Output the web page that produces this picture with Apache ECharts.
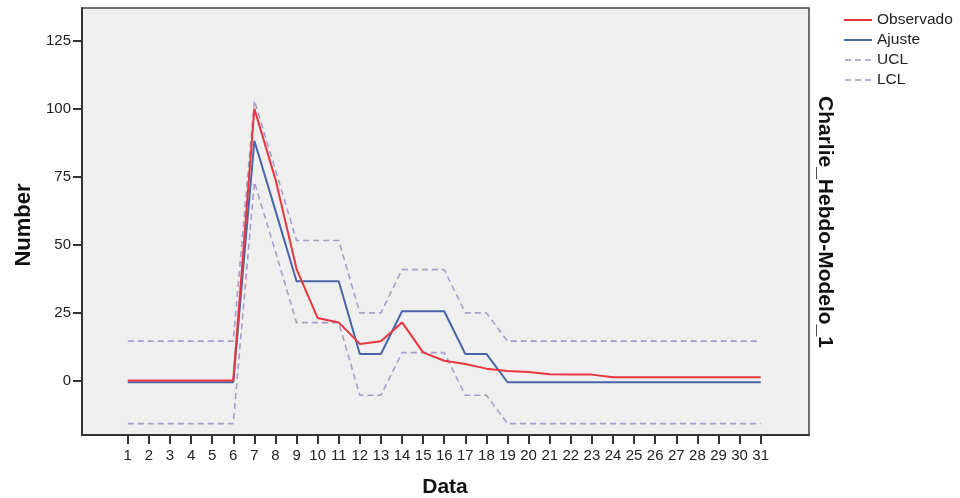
<!DOCTYPE html>
<html>
<head>
<meta charset="utf-8">
<script src="https://cdn.jsdelivr.net/npm/echarts@6/dist/echarts.min.js"></script>
<style>
html,body{margin:0;padding:0;background:#fff;}
#chart{width:960px;height:498px;}
</style>
</head>
<body>
<div id="chart"></div>
<script>
const categories = [1,2,3,4,5,6,7,8,9,10,11,12,13,14,15,16,17,18,19,20,21,22,23,24,25,26,27,28,29,30,31];
const observado = [0,0,0,0,0,0,100,74,41,23,21.4,13.5,14.5,21.4,10.4,7.3,6.1,4.4,3.5,3.2,2.3,2.2,2.2,1.2,1.2,1.2,1.2,1.2,1.2,1.2,1.2];
const ajuste = [-0.6,-0.6,-0.6,-0.6,-0.6,-0.6,88.2,62.5,36.5,36.5,36.5,9.8,9.8,25.5,25.5,25.5,9.8,9.8,-0.6,-0.6,-0.6,-0.6,-0.6,-0.6,-0.6,-0.6,-0.6,-0.6,-0.6,-0.6,-0.6];
const ucl = [14.5,14.5,14.5,14.5,14.5,14.5,103,77.5,51.5,51.5,51.5,24.9,24.9,40.8,40.8,40.8,24.9,24.9,14.5,14.5,14.5,14.5,14.5,14.5,14.5,14.5,14.5,14.5,14.5,14.5,14.5];
const lcl = [-15.8,-15.8,-15.8,-15.8,-15.8,-15.8,73,47.5,21.3,21.3,21.3,-5.4,-5.4,10.3,10.3,10.3,-5.4,-5.4,-15.8,-15.8,-15.8,-15.8,-15.8,-15.8,-15.8,-15.8,-15.8,-15.8,-15.8,-15.8,-15.8];
const yTicks = [0,25,50,75,100,125];
const seriesNames = ['Observado','Ajuste','UCL','LCL'];

const pairs = arr => categories.map((c,i)=>[c, arr[i]]);
const FONT = 'Liberation Sans, Arial, sans-serif';
const dashIcon = 'path://M0,0H6V2H0Z M10,0H16V2H10Z M20,0H26V2H20Z';

const chart = echarts.init(document.getElementById('chart'));
chart.setOption({
  animation:false,
  backgroundColor:'#fff',
  grid:{left:82,right:151,top:8,bottom:63,show:true,backgroundColor:'#EFEFEF',borderColor:'#444',borderWidth:1.5},
  legend:{
    orient:'vertical',left:839,top:7,itemWidth:28,itemHeight:2,itemGap:4,
    data:[
      {name:seriesNames[0],icon:'rect'},
      {name:seriesNames[1],icon:'rect'},
      {name:seriesNames[2],icon:dashIcon},
      {name:seriesNames[3],icon:dashIcon}
    ],
    textStyle:{fontFamily:FONT,fontSize:15.5,lineHeight:16,color:'#222'}
  },
  xAxis:{
    type:'value',min:-1.17,max:33.29,
    splitLine:{show:false},
    axisLine:{show:true,onZero:false,lineStyle:{color:'#333',width:2}},
    axisTick:{show:true,length:9,lineStyle:{color:'#333',width:2},customValues:categories},
    axisLabel:{fontFamily:FONT,fontSize:15,color:'#222',margin:13,customValues:categories}
  },
  yAxis:{
    type:'value',min:-20,max:137,
    splitLine:{show:false},
    axisLine:{show:true,onZero:false,lineStyle:{color:'#333',width:2}},
    axisTick:{show:true,length:9,lineStyle:{color:'#333',width:2},customValues:yTicks},
    axisLabel:{fontFamily:FONT,fontSize:15,color:'#222',margin:11,customValues:yTicks}
  },
  graphic:[
    {type:'text',x:445,y:487,style:{text:'Data',font:'bold 21px '+FONT,fill:'#111',align:'center',verticalAlign:'middle'}},
    {type:'text',x:24,y:225,rotation:Math.PI/2,style:{text:'Number',font:'bold 22px '+FONT,fill:'#111',align:'center',verticalAlign:'middle'}},
    {type:'text',x:825,y:222,rotation:-Math.PI/2,style:{text:'Charlie_Hebdo-Modelo_1',font:'bold 21px '+FONT,fill:'#111',align:'center',verticalAlign:'middle'}}
  ],
  series:[
    {name:'Observado',type:'line',data:pairs(observado),symbol:'none',z:5,lineStyle:{color:'#E8363E',width:2},itemStyle:{color:'#E8363E'}},
    {name:'Ajuste',type:'line',data:pairs(ajuste),symbol:'none',z:4,lineStyle:{color:'#4866A8',width:2},itemStyle:{color:'#4866A8'}},
    {name:'UCL',type:'line',data:pairs(ucl),symbol:'none',z:3,lineStyle:{color:'#A89DC8',width:1.6,type:[6,4]},itemStyle:{color:'#B7AED2'}},
    {name:'LCL',type:'line',data:pairs(lcl),symbol:'none',z:3,lineStyle:{color:'#A89DC8',width:1.6,type:[6,4]},itemStyle:{color:'#B7AED2'}}
  ]
});
</script>
</body>
</html>
